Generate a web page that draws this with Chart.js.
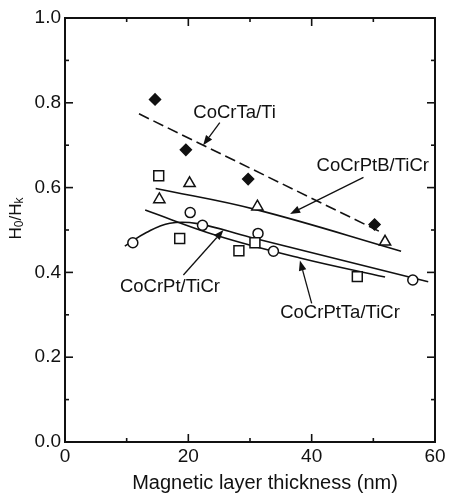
<!DOCTYPE html>
<html>
<head>
<meta charset="utf-8">
<script src="https://cdn.jsdelivr.net/npm/chart.js@4.4.1/dist/chart.umd.min.js"></script>
<style>
  html, body { margin: 0; padding: 0; background: #fff; }
  #wrap { width: 450px; height: 494px; }
</style>
</head>
<body>
<div id="wrap"><canvas id="chart"></canvas></div>
<script>
const xMajorTicks = [0, 20, 40, 60];
const xMinorTicks = [10, 30, 50];
const yMajorTicks = [0, 0.2, 0.4, 0.6, 0.8, 1.0];
const yMinorTicks = [0.1, 0.3, 0.5, 0.7, 0.9];

// measured points, [thickness nm, H0/Hk]
const cocrtaPoints = [[14.6, 0.808], [19.6, 0.689], [29.7, 0.62], [50.2, 0.513]];
const cocrtaFit = [[12.0, 0.774], [51.5, 0.493]];
const cocrptbPoints = [[15.3, 0.572], [20.2, 0.61], [31.2, 0.555], [51.9, 0.472]];
const cocrptbFit = [[14.7, 0.598], [31.0, 0.548], [54.5, 0.45]];
const cocrpttaPoints = [[15.2, 0.628], [18.6, 0.48], [28.2, 0.451], [30.8, 0.47], [47.4, 0.39]];
const cocrpttaFit = [[13.0, 0.547], [24.6, 0.487], [38.1, 0.434], [51.9, 0.389]];
const cocrptPoints = [[11.0, 0.47], [20.3, 0.541], [22.3, 0.511], [31.3, 0.492], [33.8, 0.45], [56.4, 0.382]];
const cocrptFit = [[9.7, 0.462], [13.2, 0.494], [17.0, 0.516], [21.5, 0.515], [30.0, 0.483], [58.9, 0.378]];

// curve labels: text, left/middle anchor, arrow tail and tip (data units)
const curveLabels = [
  { text: "CoCrTa/Ti", at: [20.8, 0.776], tail: [25.1, 0.753], tip: [22.4, 0.70] },
  { text: "CoCrPtB/TiCr", at: [40.8, 0.65], tail: [48.4, 0.624], tip: [36.5, 0.538] },
  { text: "CoCrPt/TiCr", at: [8.9, 0.366], tail: [19.2, 0.394], tip: [25.7, 0.50] },
  { text: "CoCrPtTa/TiCr", at: [34.9, 0.304], tail: [40.0, 0.327], tip: [38.1, 0.428] },
];

const ink = "#111";
const fontFamily = "'Liberation Sans', Arial, Helvetica, sans-serif";
const xy = (pairs) => pairs.map(([x, y]) => ({ x, y }));

function markers(data, style, radius, fill) {
  return {
    data: xy(data),
    pointStyle: style,
    pointRadius: radius,
    backgroundColor: fill,
    borderColor: ink,
    borderWidth: 1.5,
    showLine: false,
    order: 1,
  };
}

function fitLine(data, tension, dash) {
  return {
    data: xy(data),
    showLine: true,
    pointRadius: 0,
    borderColor: ink,
    borderWidth: 1.6,
    borderDash: dash || [],
    tension: tension,
    order: 2,
  };
}

const framePlugin = {
  id: "frame",
  afterDatasetsDraw(chart) {
    const { ctx, chartArea: a, scales } = chart;
    const sx = scales.x, sy = scales.y;
    ctx.save();
    ctx.strokeStyle = ink;
    ctx.fillStyle = ink;
    ctx.lineWidth = 2;
    ctx.strokeRect(a.left, a.top, a.right - a.left, a.bottom - a.top);

    const seg = (x1, y1, x2, y2) => {
      ctx.beginPath();
      ctx.moveTo(x1, y1);
      ctx.lineTo(x2, y2);
      ctx.stroke();
    };
    ctx.lineWidth = 1.6;
    for (const [list, len] of [[xMajorTicks, 8], [xMinorTicks, 4]]) {
      for (const v of list) {
        const px = sx.getPixelForValue(v);
        seg(px, a.bottom, px, a.bottom - len);
        seg(px, a.top, px, a.top + len);
      }
    }
    for (const [list, len] of [[yMajorTicks, 8], [yMinorTicks, 4]]) {
      for (const v of list) {
        const py = sy.getPixelForValue(v);
        seg(a.left, py, a.left + len, py);
        seg(a.right, py, a.right - len, py);
      }
    }

    // labels with arrows
    ctx.font = "18.5px " + fontFamily;
    ctx.textAlign = "left";
    ctx.textBaseline = "middle";
    ctx.lineWidth = 1.3;
    for (const lab of curveLabels) {
      ctx.fillText(lab.text, sx.getPixelForValue(lab.at[0]), sy.getPixelForValue(lab.at[1]));
      const x0 = sx.getPixelForValue(lab.tail[0]), y0 = sy.getPixelForValue(lab.tail[1]);
      const x1 = sx.getPixelForValue(lab.tip[0]), y1 = sy.getPixelForValue(lab.tip[1]);
      const ang = Math.atan2(y1 - y0, x1 - x0);
      const headLen = 10, headW = 3.8;
      const bx = x1 - Math.cos(ang) * headLen, by = y1 - Math.sin(ang) * headLen;
      seg(x0, y0, bx, by);
      ctx.beginPath();
      ctx.moveTo(x1, y1);
      ctx.lineTo(bx + Math.sin(ang) * headW, by - Math.cos(ang) * headW);
      ctx.lineTo(bx - Math.sin(ang) * headW, by + Math.cos(ang) * headW);
      ctx.closePath();
      ctx.fill();
    }

    // x axis title
    ctx.font = "20px " + fontFamily;
    ctx.textAlign = "center";
    ctx.fillText("Magnetic layer thickness (nm)", a.left + 200, 483);

    // y axis title with subscripts: H0/Hk
    ctx.translate(16, 218.5);
    ctx.rotate(-Math.PI / 2);
    const big = "17px " + fontFamily, small = "12px " + fontFamily;
    const parts = [["H", big, 0], ["0", small, 4], ["/H", big, 0], ["k", small, 4]];
    let total = 0;
    for (const [t, f] of parts) { ctx.font = f; total += ctx.measureText(t).width; }
    let cx = -total / 2;
    ctx.textAlign = "left";
    for (const [t, f, dy] of parts) {
      ctx.font = f;
      ctx.fillText(t, cx, dy);
      cx += ctx.measureText(t).width;
    }
    ctx.restore();
  },
};

new Chart(document.getElementById("chart"), {
  type: "scatter",
  data: {
    datasets: [
      markers(cocrtaPoints, "rectRot", 5.5, ink),
      markers(cocrptbPoints, "triangle", 6.5, "#fff"),
      markers(cocrpttaPoints, "rect", 7, "#fff"),
      markers(cocrptPoints, "circle", 5, "#fff"),
      fitLine(cocrtaFit, 0, [11, 5]),
      fitLine(cocrptbFit, 0.4),
      fitLine(cocrpttaFit, 0.4),
      fitLine(cocrptFit, 0.4),
    ],
  },
  options: {
    responsive: true,
    maintainAspectRatio: false,
    animation: false,
    layout: { padding: { top: 18, right: 15, left: 0, bottom: 0 } },
    plugins: { legend: { display: false }, tooltip: { enabled: false } },
    scales: {
      x: {
        type: "linear",
        min: 0,
        max: 60,
        afterBuildTicks: (s) => { s.ticks = xMajorTicks.map((v) => ({ value: v })); },
        afterFit: (s) => { s.height = 52; },
        grid: { display: false, drawTicks: false },
        border: { display: false },
        ticks: {
          color: ink,
          padding: 3,
          maxRotation: 0,
          autoSkip: false,
          font: { family: fontFamily, size: 19 },
          callback: (v) => String(v),
        },
      },
      y: {
        type: "linear",
        min: 0,
        max: 1,
        afterBuildTicks: (s) => { s.ticks = yMajorTicks.map((v) => ({ value: v })); },
        afterFit: (s) => { s.width = 65; },
        grid: { display: false, drawTicks: false },
        border: { display: false },
        ticks: {
          color: ink,
          padding: 4,
          autoSkip: false,
          font: { family: fontFamily, size: 19 },
          callback: (v) => v.toFixed(1),
        },
      },
    },
  },
  plugins: [framePlugin],
});
</script>
</body>
</html>
